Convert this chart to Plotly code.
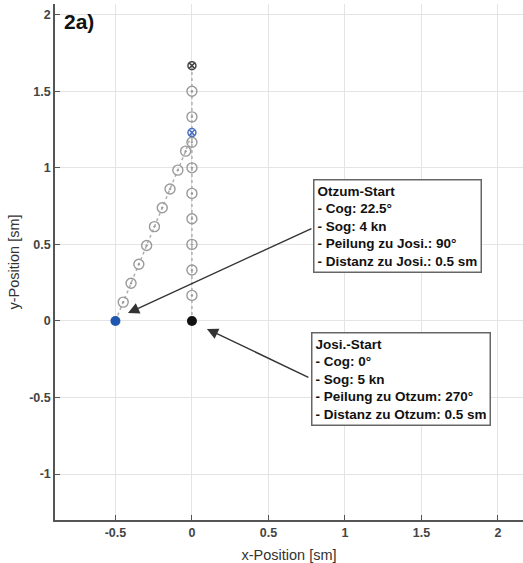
import plotly.graph_objects as go

# Josi track (x = 0, heading north, 5 kn, positions every 2 min)
josi_x = [0, 0, 0, 0, 0, 0, 0, 0, 0, 0]
josi_y = [0.0, 0.167, 0.333, 0.5, 0.667, 0.833, 1.0, 1.167, 1.333, 1.5]
josi_end = (0.0, 1.667)

# Otzum track (Cog 22.5°, 4 kn)
otzum_x = [-0.5, -0.449, -0.398, -0.347, -0.296, -0.245, -0.194, -0.143, -0.092, -0.041]
otzum_y = [0.0, 0.123, 0.246, 0.370, 0.493, 0.616, 0.739, 0.862, 0.985, 1.109]
otzum_end = (0.0, 1.23)

x_ticks = [-0.5, 0, 0.5, 1, 1.5, 2]
y_ticks = [-1, -0.5, 0, 0.5, 1, 1.5, 2]

otzum_text = ("<b>Otzum-Start<br>- Cog: 22.5°<br>- Sog: 4 kn<br>"
              "- Peilung zu Josi.: 90°<br>- Distanz zu Josi.: 0.5 sm</b>")
josi_text = ("<b>Josi.-Start<br>- Cog: 0°<br>- Sog: 5 kn<br>"
             "- Peilung zu Otzum: 270°<br>- Distanz zu Otzum: 0.5 sm</b>")

FONT = "Liberation Sans, Arial, sans-serif"
GRAY = "#9a9a9a"

fig = go.Figure()

# dotted track lines
fig.add_trace(go.Scatter(x=josi_x + [josi_end[0]], y=josi_y + [josi_end[1]], mode="lines",
                         line=dict(color="#b0b0b0", width=1.5, dash="dot"), hoverinfo="skip"))
fig.add_trace(go.Scatter(x=otzum_x + [otzum_end[0]], y=otzum_y + [otzum_end[1]], mode="lines",
                         line=dict(color="#b0b0b0", width=1.5, dash="dot"), hoverinfo="skip"))

# intermediate positions
fig.add_trace(go.Scatter(x=josi_x[1:], y=josi_y[1:], mode="markers",
                         marker=dict(symbol="circle-open-dot", size=10, color=GRAY,
                                     line=dict(color=GRAY, width=1.4))))
fig.add_trace(go.Scatter(x=otzum_x[1:], y=otzum_y[1:], mode="markers",
                         marker=dict(symbol="circle-open-dot", size=10, color=GRAY,
                                     line=dict(color=GRAY, width=1.4))))

# end markers
fig.add_trace(go.Scatter(x=[josi_end[0]], y=[josi_end[1]], mode="markers",
                         marker=dict(symbol="circle-x-open", size=8, color="#444444",
                                     line=dict(color="#444444", width=1.5))))
fig.add_trace(go.Scatter(x=[otzum_end[0]], y=[otzum_end[1]], mode="markers",
                         marker=dict(symbol="circle-x-open", size=8, color="#4a6fc0",
                                     line=dict(color="#4a6fc0", width=1.5))))

# start points
fig.add_trace(go.Scatter(x=[otzum_x[0]], y=[otzum_y[0]], mode="markers",
                         marker=dict(symbol="circle", size=10, color="#1f56b0")))
fig.add_trace(go.Scatter(x=[josi_x[0]], y=[josi_y[0]], mode="markers",
                         marker=dict(symbol="circle", size=10, color="#111111")))

# text boxes
fig.add_annotation(x=1.343, y=0.618, xref="x", yref="y", text=otzum_text, showarrow=False,
                   align="left", font=dict(family=FONT, size=13.5, color="#111111"),
                   bgcolor="white", bordercolor="#666666", borderwidth=1.5, borderpad=3)
fig.add_annotation(x=1.366, y=-0.379, xref="x", yref="y", text=josi_text, showarrow=False,
                   align="left", font=dict(family=FONT, size=13.5, color="#111111"),
                   bgcolor="white", bordercolor="#666666", borderwidth=1.5, borderpad=3)

# arrows
fig.add_annotation(x=-0.418, y=0.052, ax=0.791, ay=0.608, xref="x", yref="y",
                   axref="x", ayref="y", text="", showarrow=True,
                   arrowhead=2, arrowsize=1.6, arrowwidth=1.4, arrowcolor="#333333")
fig.add_annotation(x=0.098, y=-0.052, ax=0.771, ay=-0.373, xref="x", yref="y",
                   axref="x", ayref="y", text="", showarrow=True,
                   arrowhead=2, arrowsize=1.6, arrowwidth=1.4, arrowcolor="#333333")

# panel label
fig.add_annotation(x=0.015, y=0.993, xref="paper", yref="paper", text="<b>2a)</b>",
                   showarrow=False, xanchor="left", yanchor="top",
                   font=dict(family=FONT, size=21, color="#111111"))

axis_common = dict(showgrid=True, gridcolor="#e4e4e4", gridwidth=1, zeroline=False,
                   showline=True, linecolor="#555555", linewidth=1.5,
                   ticks="inside", ticklen=5, tickcolor="#555555", automargin=False,
                   tickfont=dict(family=FONT, size=12.5, color="#444444", weight="bold"))

fig.update_layout(
    width=523, height=563,
    margin=dict(l=55, r=0, t=4, b=43),
    paper_bgcolor="white", plot_bgcolor="white",
    showlegend=False,
    font=dict(family=FONT),
    xaxis=dict(range=[-0.895, 2.164], tickvals=x_ticks, ticktext=["-0.5", "0", "0.5", "1", "1.5", "2"],
               title=dict(text="x-Position [sm]", font=dict(family=FONT, size=14.5, color="#333333"),
                          standoff=13),
               **axis_common),
    yaxis=dict(range=[-1.3, 2.07], tickvals=y_ticks, ticktext=["-1", "-0.5", "0", "0.5", "1", "1.5", "2"],
               title=dict(text="y-Position [sm]", font=dict(family=FONT, size=14.5, color="#333333"),
                          standoff=6),
               **axis_common),
)

fig.write_html("out.html", config={"displayModeBar": False},
               post_script="document.body.style.margin='0px';document.body.style.overflow='hidden';")
